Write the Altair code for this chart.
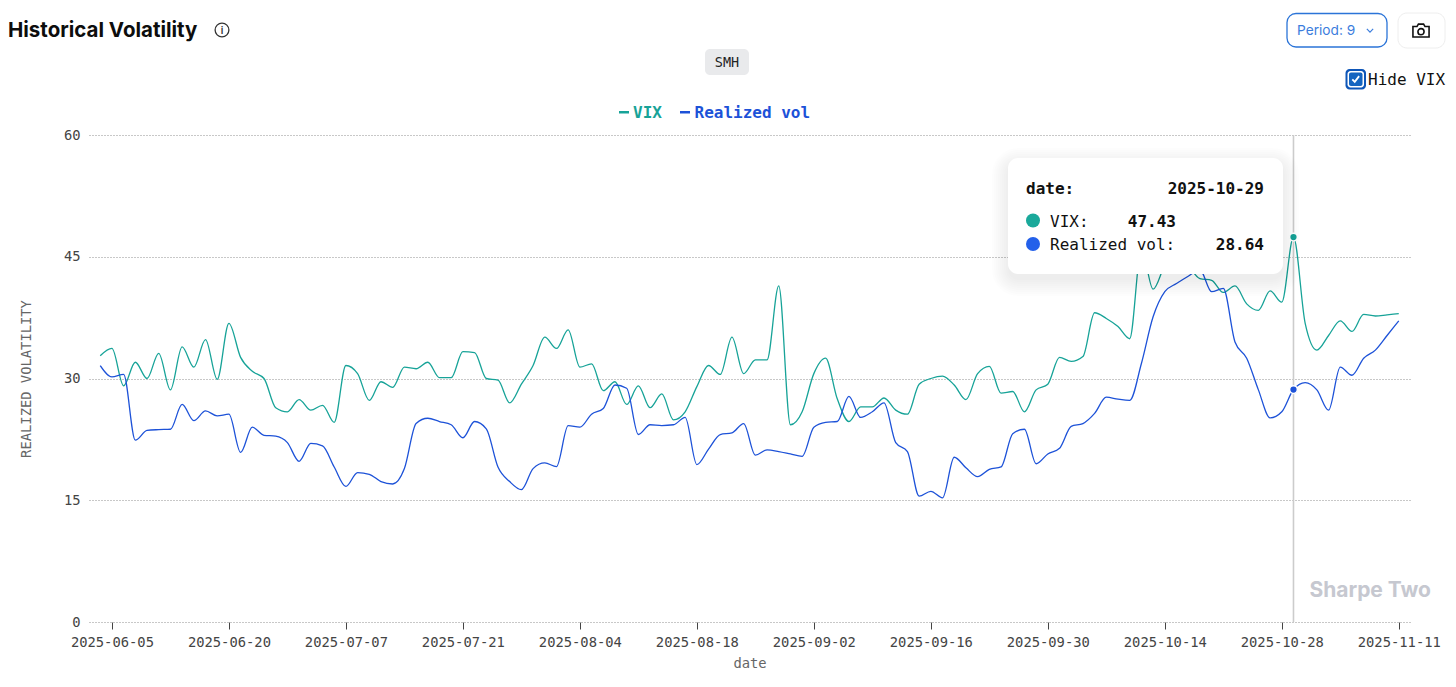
import altair as alt
import pandas as pd

june = ["04","05","06","09","10","11","12","13","16","17","18","20","23","24","25","26","27","30"]
july = ["01","02","03","07","08","09","10","11","14","15","16","17","18","21","22","23","24","25","28","29","30","31"]
august = ["01","04","05","06","07","08","11","12","13","14","15","18","19","20","21","22","25","26","27","28","29"]
september = ["02","03","04","05","08","09","10","11","12","15","16","17","18","19","22","23","24","25","26","29","30"]
october = ["01","02","03","06","07","08","09","10","13","14","15","16","17","20","21","22","23","24","27","28","29","30","31"]
november = ["03","04","05","06","07","10","11"]
dates = (["2025-06-" + d for d in june] + ["2025-07-" + d for d in july]
         + ["2025-08-" + d for d in august] + ["2025-09-" + d for d in september]
         + ["2025-10-" + d for d in october] + ["2025-11-" + d for d in november])

vix = [32.8,33.7,29.1,32.0,30.0,33.1,28.6,33.9,31.4,34.8,29.9,36.8,32.6,30.9,30.0,26.4,25.9,27.4,26.1,26.7,
       24.6,31.6,30.6,27.3,29.6,28.9,31.4,31.2,32.0,30.1,30.1,33.3,33.2,30.0,29.8,27.0,29.3,31.6,35.1,33.7,
       36.0,31.4,31.8,28.5,29.6,26.8,29.1,26.4,28.1,24.9,25.9,29.0,31.6,30.5,35.1,30.6,32.3,32.3,41.4,24.3,
       25.9,30.6,32.5,27.5,24.7,26.5,26.5,27.6,26.1,25.6,29.3,30.0,30.3,29.2,27.4,30.6,31.5,28.2,28.4,25.9,
       28.6,29.3,32.6,32.1,32.7,38.1,37.4,36.4,34.9,46.0,41.0,44.0,46.0,44.0,42.3,42.1,40.6,41.4,39.2,38.4,
       40.8,39.4,47.43,36.8,33.5,35.3,37.1,35.8,37.9,37.7,37.85,38.0]
realized = [31.6,30.2,30.5,22.4,23.6,23.7,23.75,26.8,24.8,26.0,25.4,25.6,20.9,24.0,23.0,22.9,22.1,19.8,22.0,21.7,
            19.1,16.7,18.4,18.2,17.3,17.0,18.9,24.45,25.1,24.7,24.3,22.7,24.7,23.8,19.1,17.3,16.3,18.9,19.6,19.15,
            24.2,24.0,25.6,26.3,29.2,28.8,23.1,24.3,24.2,24.3,25.2,19.4,21.3,23.1,23.3,24.45,20.55,21.2,21.0,20.7,
            20.4,24.0,24.6,24.7,27.8,25.2,25.9,27.0,22.1,21.0,15.5,16.1,15.3,20.3,19.0,17.9,18.8,19.1,23.2,23.75,
            19.5,20.7,21.4,24.1,24.45,25.7,27.7,27.45,27.3,31.85,37.6,40.7,41.7,42.6,43.4,40.7,41.1,34.5,32.5,28.6,
            25.15,25.9,28.64,29.5,28.6,26.1,31.4,30.4,32.5,33.5,35.3,37.1]
tick_dates = dates[1::10]
y_ticks = [0, 15, 30, 45, 60]
series_names = ["VIX", "Realized vol"]
series_colors = ["#17a398", "#1d52d8"]
hover_date = "2025-10-29"

OX, OY = 89, 135  # plot origin on the page
MONO = "DejaVu Sans Mono"
SANS = "Inter"
ONE = alt.Data(values=[{"a": 0}])

def box(x0, y0, x1, y1, **kw):
    return alt.Chart(ONE).mark_rect(**kw).encode(
        x=alt.value(x0 - OX), x2=alt.value(x1 - OX),
        y=alt.value(y0 - OY), y2=alt.value(y1 - OY))

def label(x, y, s, **kw):
    kw.setdefault("baseline", "middle")
    return alt.Chart(ONE).mark_text(**kw).encode(
        x=alt.value(x - OX), y=alt.value(y - OY), text=alt.value(s))

def glyph(x, y, size, **kw):
    kw.setdefault("opacity", 1)
    return alt.Chart(ONE).mark_point(**kw).encode(
        x=alt.value(x - OX), y=alt.value(y - OY), size=alt.value(size))

df = pd.DataFrame({
    "date": dates * 2,
    "value": vix + realized,
    "series": [series_names[0]] * len(dates) + [series_names[1]] * len(dates),
})
x_scale = alt.Scale(type="point", domain=dates, padding=0.96)
y_scale = alt.Scale(domain=[0, 60], nice=False)
x_enc = alt.X("date:O", scale=x_scale,
              axis=alt.Axis(values=tick_dates, labelAngle=0, title="date", grid=False, domain=False,
                            tickColor="#444444", tickSize=7, tickWidth=1,
                            labelFont=MONO, labelFontSize=13.8, labelColor="#444444", labelPadding=6,
                            labelOverlap=False, titleFont=MONO, titleFontSize=13.8, titleColor="#666666",
                            titleFontWeight="normal", titlePadding=8))
y_enc = alt.Y("value:Q", scale=y_scale,
              axis=alt.Axis(values=y_ticks, title="REALIZED VOLATILITY", grid=True, gridDash=[1, 2],
                            gridColor="#909090", gridWidth=1, domain=False, ticks=False,
                            labelFont=MONO, labelFontSize=13.8, labelColor="#444444", labelPadding=9,
                            titleFont=MONO, titleFontSize=13.8, titleColor="#666666",
                            titleFontWeight="normal", titlePadding=30))
color_enc = alt.Color("series:N", scale=alt.Scale(domain=series_names, range=series_colors), legend=None)

lines = alt.Chart(df).mark_line(interpolate="monotone", strokeWidth=1.3).encode(
    x=x_enc, y=y_enc, color=color_enc, detail="series:N")
rule = alt.Chart(alt.Data(values=[{"date": hover_date}])).mark_rule(color="#cccccc", strokeWidth=1.6).encode(
    x=alt.X("date:O", scale=x_scale))
dots = alt.Chart(df[df["date"] == hover_date]).mark_point(filled=True, opacity=1, size=60, stroke="white",
                                                          strokeWidth=1.5).encode(
    x=alt.X("date:O", scale=x_scale),
    y=alt.Y("value:Q", scale=y_scale),
    color=color_enc)

shadow = [box(1008 - k, 158 + 6 - k, 1283 + k, 274 + 6 + k, fill="#000000", opacity=0.007, cornerRadius=10 + k)
          for k in range(0, 18, 2)]

CAMERA = ("M-1,-.55 L-.5,-.55 L-.32,-.85 L.32,-.85 L.5,-.55 L1,-.55 L1,.75 L-1,.75 Z "
          "M.38,.08 A.38,.38 0 1,0 -.38,.08 A.38,.38 0 1,0 .38,.08 Z")
CHECK = "M-.65,.05 L-.18,.55 L.65,-.55"
CHEVRON = "M-1,-.5 L0,.5 L1,-.5"

chrome = [
    label(8, 31, "Historical Volatility", font=SANS, fontSize=20.5, fontWeight=700, color="#0d0d0d", align="left"),
    glyph(222, 30, 190, shape="circle", filled=False, stroke="#333333", strokeWidth=1.3),
    label(222, 30.5, "i", font=SANS, fontSize=10, fontWeight=600, color="#333333", align="center"),
    box(705, 49, 749, 75, fill="#e9eaec", cornerRadius=5),
    label(727, 62.5, "SMH", font=MONO, fontSize=13.5, color="#222222", align="center"),
    box(1287, 13.5, 1387, 47, fill="white", stroke="#2b74d8", strokeWidth=1.3, cornerRadius=9),
    label(1297, 31, "Period: 9", font=SANS, fontSize=13.7, color="#3b7ddd", align="left"),
    glyph(1370, 30.5, 40, shape=CHEVRON, filled=False, stroke="#3b7ddd", strokeWidth=1.2),
    box(1398, 13, 1445, 48, fill="white", stroke="#eeeeee", strokeWidth=1, cornerRadius=9),
    glyph(1421, 31, 260, shape=CAMERA, filled=False, stroke="#111111", strokeWidth=1.6),
    box(1345.5, 69, 1366, 89.5, fill="#0e56b8", cornerRadius=4),
    box(1347.5, 71, 1364, 87.5, fill="white", cornerRadius=3),
    box(1349, 72.5, 1362.5, 86, fill="#1565c0", cornerRadius=2),
    glyph(1355.7, 79, 110, shape=CHECK, filled=False, stroke="white", strokeWidth=1.8),
    label(1368, 80, "Hide VIX", font=MONO, fontSize=16, color="#111111", align="left"),
    box(619, 111, 629, 113.5, fill=series_colors[0]),
    label(633, 112.5, series_names[0], font=MONO, fontSize=16, fontWeight=700, color=series_colors[0], align="left"),
    box(680, 111, 690, 113.5, fill=series_colors[1]),
    label(694.5, 112.5, series_names[1], font=MONO, fontSize=16, fontWeight=700, color=series_colors[1], align="left"),
    label(1431, 590.5, "Sharpe Two", font=SANS, fontSize=21, fontWeight=700, color="#c6c8d0", align="right"),
]
tooltip = shadow + [
    box(1008, 158, 1283, 274, fill="white", cornerRadius=10),
    label(1026, 189, "date:", font=MONO, fontSize=16, fontWeight=700, color="#111111", align="left"),
    label(1264, 189, hover_date, font=MONO, fontSize=16, fontWeight=700, color="#111111", align="right"),
    glyph(1033, 220.5, 196, shape="circle", filled=True, color="#1aa99b"),
    label(1050, 221.5, series_names[0] + ":", font=MONO, fontSize=16, color="#111111", align="left"),
    label(1176, 221.5, f"{vix[dates.index(hover_date)]:.2f}", font=MONO, fontSize=16, fontWeight=700,
          color="#111111", align="right"),
    glyph(1033, 244, 196, shape="circle", filled=True, color="#2360ea"),
    label(1050, 244.5, series_names[1] + ":", font=MONO, fontSize=16, color="#111111", align="left"),
    label(1264, 244.5, f"{realized[dates.index(hover_date)]:.2f}", font=MONO, fontSize=16, fontWeight=700,
          color="#111111", align="right"),
]

chart = alt.layer(lines, rule, dots, *chrome, *tooltip).properties(
    width=1321, height=487,
    autosize=alt.AutoSizeParams(type="none"),
    padding={"left": 81, "top": 127, "right": 38, "bottom": 48},
    background="white",
).configure_view(stroke=None)

chart.save("out.html", embed_options={"renderer": "svg", "actions": False})
